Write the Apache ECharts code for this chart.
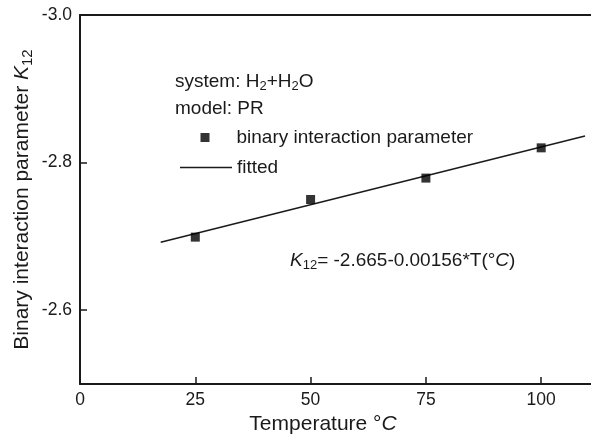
<!DOCTYPE html>
<html>
<head>
<meta charset="utf-8">
<script src="https://cdn.jsdelivr.net/npm/echarts@6/dist/echarts.min.js"></script>
<style>html,body{margin:0;padding:0;background:#fff;}#c{width:591px;height:439px;}</style>
</head>
<body>
<div id="c"></div>
<script>
// data
const temps = [25, 50, 75, 100];
const k12 = [-2.699, -2.750, -2.779, -2.820];
const fitT = [17.5, 109.5];
const fitK = [-2.692, -2.836];
const xTicks = [0, 25, 50, 75, 100];
const yTicks = [-3.0, -2.8, -2.6];

const FONT = "'Liberation Sans', Arial, sans-serif";
const INK = '#1a1a1a';

const chart = echarts.init(document.getElementById('c'));
const subStyle = {fontSize: 13, fontFamily: FONT, color: INK, padding: [10, 0, 0, 0]};
chart.setOption({
  animation: false,
  backgroundColor: '#fff',
  grid: {left: 80, right: 0, top: 15, bottom: 55, containLabel: false},
  xAxis: [{
    type: 'value', min: 0, max: 110.8, interval: 25, position: 'bottom',
    axisLine: {show: true, lineStyle: {color: INK, width: 2}},
    axisTick: {show: true, inside: true, length: 7, lineStyle: {color: INK, width: 1.5}},
    axisLabel: {show: true, showMaxLabel: false, color: INK, fontSize: 17.5, fontFamily: FONT, margin: 7,
      formatter: v => xTicks.includes(v) ? String(v) : ''},
    splitLine: {show: false}
  }, {
    type: 'value', min: 0, max: 110.8, position: 'top',
    axisLine: {show: true, lineStyle: {color: INK, width: 2}},
    axisTick: {show: false}, axisLabel: {show: false}, splitLine: {show: false}
  }],
  yAxis: {
    type: 'value', min: -3.0, max: -2.5, interval: 0.2, inverse: true,
    axisLine: {show: true, lineStyle: {color: INK, width: 2}},
    axisTick: {show: true, inside: true, length: 7, lineStyle: {color: INK, width: 1.5}},
    axisLabel: {show: true, showMaxLabel: false, color: INK, fontSize: 17.5, fontFamily: FONT, margin: 8,
      formatter: v => yTicks.some(t => Math.abs(t - v) < 1e-6) ? v.toFixed(1) : ''},
    splitLine: {show: false},
    name: 'Binary interaction parameter {k|K}{s|12}',
    nameLocation: 'middle', nameGap: 45, nameRotate: 90, nameMoveOverlap: false,
    nameTextStyle: {fontSize: 21, fontFamily: FONT, color: INK,
      rich: {k: {fontSize: 21, fontFamily: FONT, color: INK, fontStyle: 'italic'},
             s: {fontSize: 15, fontFamily: FONT, color: INK, padding: [11, 0, 0, 0]}}}
  },
  legend: [{
    data: ['binary interaction parameter'],
    left: 195.5, top: 123, itemWidth: 9, itemHeight: 9, icon: 'rect',
    textStyle: {fontSize: 19, fontFamily: FONT, color: INK, padding: [0, 0, 0, 22]},
    selectedMode: false
  }, {
    data: [{name: 'fitted', icon: 'path://M0,0L52,0L52,1.5L0,1.5Z'}],
    left: 175, top: 153, itemWidth: 52, itemHeight: 1.5,
    textStyle: {fontSize: 19, fontFamily: FONT, color: INK},
    selectedMode: false
  }],
  series: [{
    name: 'fitted', type: 'line', data: fitT.map((t, i) => [t, fitK[i]]),
    showSymbol: false, symbol: 'none', lineStyle: {color: INK, width: 1.5}, itemStyle: {color: INK}, z: 2
  }, {
    name: 'binary interaction parameter', type: 'scatter', data: temps.map((t, i) => [t, k12[i]]),
    symbol: 'rect', symbolSize: 9, itemStyle: {color: '#000'}, z: 3
  }],
  graphic: [{
    type: 'text', left: 175, top: 72,
    style: {text: 'system: H{s|2}+H{s|2}O', fontSize: 19, fontFamily: FONT, fill: INK,
      rich: {s: subStyle}}
  }, {
    type: 'text', left: 175, top: 99,
    style: {text: 'model: PR', fontSize: 19, fontFamily: FONT, fill: INK}
  }, {
    type: 'text', left: 290, top: 251,
    style: {text: '{k|K}{s|12}= -2.665-0.00156*T(°{i|C})', fontSize: 19, fontFamily: FONT, fill: INK,
      rich: {k: {fontSize: 19, fontFamily: FONT, color: INK, fontStyle: 'italic'},
             i: {fontSize: 19, fontFamily: FONT, color: INK, fontStyle: 'italic'}, s: subStyle}}
  }, {
    type: 'text', x: 323, y: 424,
    style: {text: 'Temperature °{i|C}', fontSize: 21, fontFamily: FONT, fill: INK, align: 'center', verticalAlign: 'middle',
      rich: {i: {fontSize: 21, fontFamily: FONT, color: INK, fontStyle: 'italic'}}}
  }]
});
</script>
</body>
</html>
